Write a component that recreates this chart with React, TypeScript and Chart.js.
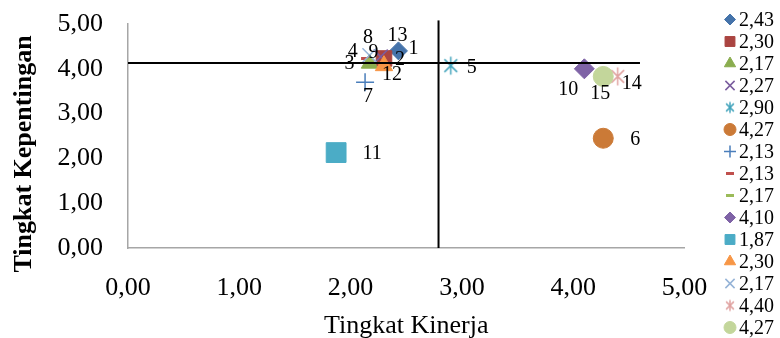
import React, { useEffect, useRef } from 'react';
import { Chart, registerables } from 'chart.js';
import { drawPoint } from 'chart.js/helpers';

Chart.register(...registerables);

// ---- data ----
const pointNumbers = ['1', '2', '3', '4', '5', '6', '7', '8', '9', '10', '11', '12', '13', '14', '15'];
const kinerja = [2.43, 2.30, 2.17, 2.27, 2.90, 4.27, 2.13, 2.13, 2.17, 4.10, 1.87, 2.30, 2.17, 4.40, 4.27];
const kepentingan = [4.40, 4.23, 4.12, 4.27, 4.07, 2.45, 3.70, 4.23, 4.20, 4.00, 2.13, 4.07, 4.30, 3.83, 3.83];
const legendLabels = ['2,43', '2,30', '2,17', '2,27', '2,90', '4,27', '2,13', '2,13', '2,17', '4,10', '1,87', '2,30', '2,17', '4,40', '4,27'];
const axisMin = 0;
const axisMax = 5;
const rataKinerja = 2.79;
const rataKepentingan = 4.13;
const garisHorizontalX = [0, 4.6];
const garisVertikalY = [0, 5.08];

// ---- styles ----
const markerStyles = [
  { style: 'rectRot', color: '#4573AA', r: 9, lr: 5.5, lw: 1 },
  { style: 'rect', color: '#AA4441', r: 11, lr: 7, lw: 1 },
  { style: 'triangle', color: '#8AAD4F', r: 9.5, lr: 6.5, lw: 1 },
  { style: 'crossRot', color: '#7A5C9E', r: 10, lr: 6.5, lw: 1.5 },
  { style: 'asterisk', color: '#45A5BD', r: 9, lr: 5.5, lw: 1.5 },
  { style: 'circle', color: '#CB7A37', r: 10, lr: 6, lw: 1 },
  { style: 'cross', color: '#4A7EBB', r: 9, lr: 6, lw: 1.5 },
  { style: 'line', color: '#C0504D', r: 4, lr: 4, lw: 3 },
  { style: 'line', color: '#9BBB59', r: 4, lr: 4, lw: 3 },
  { style: 'rectRot', color: '#7F63A6', r: 10, lr: 5.5, lw: 1 },
  { style: 'rect', color: '#4BACC6', r: 14, lr: 7, lw: 1 },
  { style: 'triangle', color: '#F79646', r: 10, lr: 6.5, lw: 1 },
  { style: 'crossRot', color: '#95B3D7', r: 10, lr: 6.5, lw: 1.5 },
  { style: 'asterisk', color: '#E0A3A1', r: 9, lr: 5.5, lw: 1.5 },
  { style: 'circle', color: '#C3D69B', r: 10, lr: 6, lw: 1 },
];

const labelOffsets = [
  [15, -2], [16, 1], [-20, 0], [-28, -5], [21, 2], [32, 2], [3, 15], [3, -21],
  [4, -7], [-16, 21], [36, 1], [8, 9], [28, -20], [14, 7], [-3, 17],
];

const SERIF = '"Liberation Serif", "Times New Roman", serif';

function fmt(v: number) {
  return v.toFixed(2).replace('.', ',');
}

function makeAsterisk(color: string, radius: number, lw: number) {
  const size = Math.ceil(radius * 2 + lw * 2);
  const c = document.createElement('canvas');
  c.width = size;
  c.height = size;
  const g = c.getContext('2d')!;
  const m = size / 2;
  g.strokeStyle = color;
  g.lineWidth = lw;
  g.beginPath();
  g.moveTo(m, m - radius);
  g.lineTo(m, m + radius);
  const d = radius * Math.SQRT1_2;
  g.moveTo(m - d, m - d);
  g.lineTo(m + d, m + d);
  g.moveTo(m + d, m - d);
  g.lineTo(m - d, m + d);
  g.stroke();
  return c;
}

export default function App() {
  const ref = useRef<HTMLCanvasElement | null>(null);

  useEffect(() => {
    document.body.style.margin = '0';
    const canvas = ref.current;
    if (!canvas) return;

    const chartStyles = markerStyles.map((m) =>
      m.style === 'asterisk' ? makeAsterisk(m.color, m.r, m.lw) : m.style
    );
    const legendStyles = markerStyles.map((m) =>
      m.style === 'asterisk' ? makeAsterisk(m.color, m.lr, m.lw) : m.style
    );

    const pointSets = kinerja.map((x, i) => {
      const m = markerStyles[i];
      return {
        label: legendLabels[i],
        data: [{ x, y: kepentingan[i] }],
        pointStyle: chartStyles[i] as any,
        pointRadius: m.r,
        pointHoverRadius: m.r,
        pointBackgroundColor: m.color,
        pointBorderColor: m.color,
        pointBorderWidth: m.lw,
        showLine: false,
        order: kinerja.length - i,
      };
    });

    const lineSets = [
      {
        label: 'h',
        data: [
          { x: garisHorizontalX[0], y: rataKepentingan },
          { x: garisHorizontalX[1], y: rataKepentingan },
        ],
        showLine: true,
        borderColor: '#000',
        borderWidth: 2,
        pointRadius: 0,
        order: 0,
        clip: false as any,
      },
      {
        label: 'v',
        data: [
          { x: rataKinerja, y: garisVertikalY[0] },
          { x: rataKinerja, y: garisVertikalY[1] },
        ],
        showLine: true,
        borderColor: '#000',
        borderWidth: 2,
        pointRadius: 0,
        order: 0,
        clip: false as any,
      },
    ];

    const overlay = {
      id: 'overlay',
      afterDatasetsDraw(chart: any) {
        const ctx = chart.ctx as CanvasRenderingContext2D;
        const ca = chart.chartArea;
        ctx.save();
        // point number labels
        ctx.font = `20px ${SERIF}`;
        ctx.fillStyle = '#000';
        ctx.textAlign = 'center';
        ctx.textBaseline = 'middle';
        kinerja.forEach((_, i) => {
          const el = chart.getDatasetMeta(i).data[0];
          const [dx, dy] = labelOffsets[i];
          ctx.fillText(pointNumbers[i], el.x + dx, el.y + dy);
        });
        // legend
        legendLabels.forEach((lab, i) => {
          const m = markerStyles[i];
          const y = 19.5 + 22 * i;
          ctx.fillStyle = m.color;
          ctx.strokeStyle = m.color;
          ctx.lineWidth = m.lw;
          drawPoint(ctx, { pointStyle: legendStyles[i] as any, radius: m.lr, rotation: 0, borderWidth: m.lw } as any, 730, y);
          ctx.fillStyle = '#000';
          ctx.font = `20px ${SERIF}`;
          ctx.textAlign = 'left';
          ctx.textBaseline = 'middle';
          ctx.fillText(lab, 739, y + 1);
        });
        // axis titles
        ctx.fillStyle = '#000';
        ctx.textAlign = 'center';
        ctx.textBaseline = 'middle';
        ctx.font = `26px ${SERIF}`;
        ctx.fillText('Tingkat Kinerja', (ca.left + ca.right) / 2, 326);
        ctx.save();
        ctx.translate(24, 154);
        ctx.rotate(-Math.PI / 2);
        ctx.font = `bold 26px ${SERIF}`;
        ctx.fillText('Tingkat Kepentingan', 0, 0);
        ctx.restore();
        ctx.restore();
      },
    };

    const tickFont = { family: SERIF, size: 26 };

    const chart = new Chart(canvas, {
      type: 'scatter',
      data: { datasets: [...pointSets, ...lineSets] as any },
      options: {
        responsive: false,
        animation: false,
        events: [],
        layout: { padding: { left: 0, right: 95.5, top: 24, bottom: 0 } },
        plugins: { legend: { display: false }, tooltip: { enabled: false } },
        scales: {
          x: {
            type: 'linear',
            min: axisMin,
            max: axisMax,
            ticks: { stepSize: 1, font: tickFont, color: '#000', padding: 25, callback: (v: any) => fmt(Number(v)) },
            grid: { display: false, drawTicks: false },
            border: { display: true, color: '#A6A6A6', width: 1.5 },
            afterFit: (s: any) => { s.height = 90; },
          },
          y: {
            type: 'linear',
            min: axisMin,
            max: axisMax,
            ticks: { stepSize: 1, font: tickFont, color: '#000', padding: 25, callback: (v: any) => fmt(Number(v)) },
            grid: { display: false, drawTicks: false },
            border: { display: true, color: '#A6A6A6', width: 1.5 },
            afterFit: (s: any) => { s.width = 128; s.paddingTop = 0; s.paddingBottom = 0; },
          },
        },
      },
      plugins: [overlay],
    });

    return () => chart.destroy();
  }, []);

  return <canvas ref={ref} width={780} height={338} style={{ display: 'block' }} />;
}
